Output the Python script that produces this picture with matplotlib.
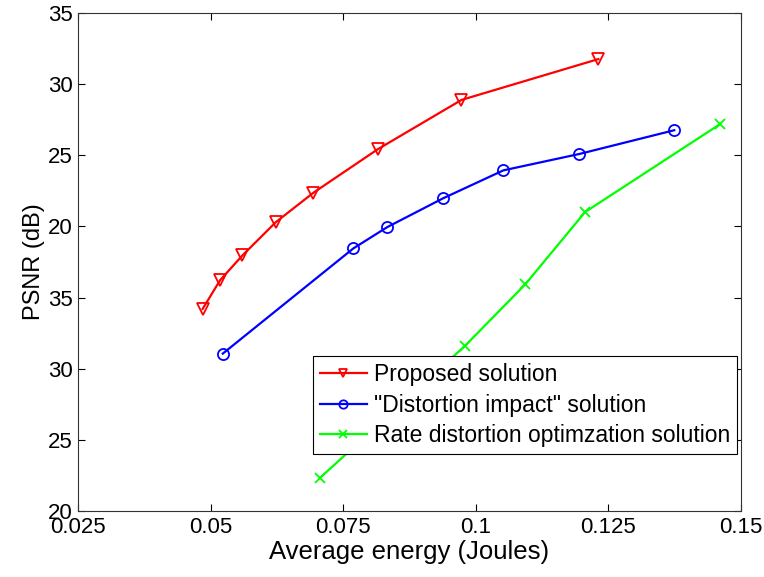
import matplotlib
matplotlib.use('Agg')
from matplotlib import pyplot as plt

plt.rcParams['font.family'] = ['Liberation Sans', 'DejaVu Sans']

# energy (Joules) / PSNR (y in axis units 20..55)
proposed_x = [0.0485, 0.0518, 0.0560, 0.0623, 0.0694, 0.0815, 0.0973, 0.1231]
proposed_y = [34.20, 36.22, 37.96, 40.30, 42.37, 45.42, 48.89, 51.76]

impact_x = [0.0523, 0.0769, 0.0833, 0.0938, 0.1052, 0.1195, 0.1374]
impact_y = [31.06, 38.45, 39.95, 41.97, 43.94, 45.09, 46.76]

rdo_x = [0.0706, 0.0980, 0.1093, 0.1206, 0.1460]
rdo_y = [22.32, 31.62, 35.92, 41.01, 47.18]

xticks = [0.025, 0.05, 0.075, 0.1, 0.125, 0.15]
xtick_labels = ['0.025', '0.05', '0.075', '0.1', '0.125', '0.15']
yticks = [20, 25, 30, 35, 40, 45, 50, 55]
ytick_labels = ['20', '25', '30', '35', '20', '25', '30', '35']

fig = plt.figure(figsize=(7.64, 5.77), dpi=100)
ax = fig.add_axes([0.102, 0.1144, 0.868, 0.8631])

ax.plot(proposed_x, proposed_y, color='red', marker='v', markersize=8,
        markerfacecolor='none', markeredgewidth=1.3, linewidth=1.6, label='Proposed solution')
ax.plot(impact_x, impact_y, color='blue', marker='o', markersize=8,
        markerfacecolor='none', markeredgewidth=1.3, linewidth=1.6, label='"Distortion impact" solution')
ax.plot(rdo_x, rdo_y, color='#00ff00', marker='x', markersize=7,
        markeredgewidth=1.3, linewidth=1.6, label='Rate distortion optimzation solution')

ax.set_xlim(0.025, 0.15)
ax.set_ylim(20, 55)
ax.set_xticks(xticks)
ax.set_xticklabels(xtick_labels)
ax.set_yticks(yticks)
ax.set_yticklabels(ytick_labels)
ax.tick_params(direction='in', top=True, right=True, labelsize=16, length=5, pad=4)
ax.set_xlabel('Average energy (Joules)', fontsize=18.5, labelpad=2)
ax.set_ylabel('PSNR (dB)', fontsize=17, labelpad=2)
for s in ax.spines.values():
    s.set_color('#333333')

leg = ax.legend(loc='lower right', bbox_to_anchor=(0.994, 0.1145), borderaxespad=0,
                fontsize=16.5, fancybox=False, framealpha=1, edgecolor='black',
                handlelength=2.05, handletextpad=0.32, labelspacing=0.33,
                markerscale=0.75, borderpad=0.3)
leg.get_frame().set_linewidth(0.8)

plt.savefig('out.png', dpi=100)
